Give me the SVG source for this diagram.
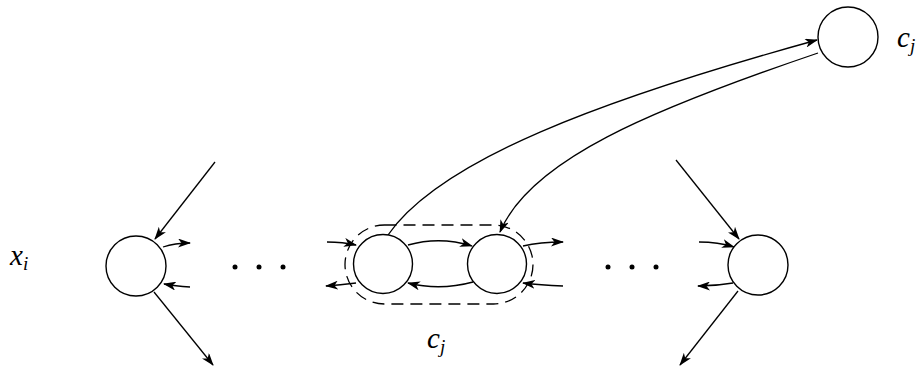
<svg xmlns="http://www.w3.org/2000/svg" width="923" height="367" viewBox="0 0 923 367">
<style>
.node{fill:#fff;stroke:#000;stroke-width:1.4}
.edge{fill:none;stroke:#000;stroke-width:1.3;marker-end:url(#ah)}
.dash{fill:none;stroke:#000;stroke-width:1.3;stroke-dasharray:12 7}
.dot{fill:#000}
</style>
<defs>
<marker id="ah" viewBox="0 0 13 9" refX="12" refY="4.5" markerWidth="13" markerHeight="9" markerUnits="userSpaceOnUse" orient="auto">
<path d="M0,0 L13,4.5 L0,9 L3.5,4.5 z" fill="#000"/>
</marker>
</defs>
<g id="connectors">
<path class="edge" d="M215,162 L155,239"/>
<path class="edge" d="M154,292 L213,365"/>
<path class="edge" d="M163,247 Q175,243 190,243"/>
<path class="edge" d="M190,287 Q175,286 164,284"/>
<path class="edge" d="M327,242 Q343,242 356,245"/>
<path class="edge" d="M356,283 Q340,285 326,286"/>
<path class="edge" d="M408,245 Q440,236 472,246"/>
<path class="edge" d="M473,282 Q440,291 408,283"/>
<path class="edge" d="M523,246 Q540,242 563,242"/>
<path class="edge" d="M563,286 Q540,285 523,283"/>
<path class="edge" d="M699,242 Q718,242 734,247"/>
<path class="edge" d="M733,283 Q716,286 698,286"/>
<path class="edge" d="M676,160 L739,239"/>
<path class="edge" d="M738,291 L680,365"/>
<path class="edge" d="M388,235 C440,160 600,100 817,40"/>
<path class="edge" d="M818,53 C650,110 530,160 500,232"/>
</g>
<g id="dots-left"><circle class="dot" cx="235" cy="267" r="2.5"/><circle class="dot" cx="259" cy="267" r="2.5"/><circle class="dot" cx="283" cy="267" r="2.5"/></g>
<g id="dots-right"><circle class="dot" cx="608" cy="267" r="2.5"/><circle class="dot" cx="632" cy="267" r="2.5"/><circle class="dot" cx="656" cy="267" r="2.5"/></g>
<g id="group-cj"><rect class="dash" x="345" y="225" width="188" height="79" rx="39.5" ry="39.5"/>
<text x="427" y="348" font-family="Liberation Serif, serif" font-style="italic" font-size="29">c<tspan font-size="19" dy="5">j</tspan></text></g>
<g id="node-xi"><circle class="node" cx="136" cy="266" r="30"/>
<text x="10" y="265" font-family="Liberation Serif, serif" font-style="italic" font-size="29">x<tspan font-size="19" dy="5">i</tspan></text></g>
<g id="node-m1"><circle class="node" cx="383" cy="264" r="29.5"/></g>
<g id="node-m2"><circle class="node" cx="497" cy="264" r="29.5"/></g>
<g id="node-right"><circle class="node" cx="758" cy="265" r="30"/></g>
<g id="node-top"><circle class="node" cx="848" cy="37" r="30"/>
<text x="897" y="47" font-family="Liberation Serif, serif" font-style="italic" font-size="29">c<tspan font-size="19" dy="5">j</tspan></text></g>
</svg>
